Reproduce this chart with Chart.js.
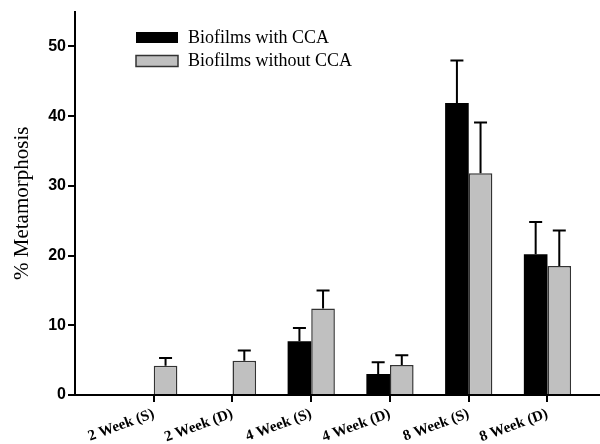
<!DOCTYPE html>
<html lang="en">
<head>
  <meta charset="UTF-8" />
  <title>% Metamorphosis</title>
  <script src="https://cdn.jsdelivr.net/npm/chart.js"></script>
  <style>
    body { margin: 0; background: #fff; overflow: hidden; }
    #wrap { width: 600px; height: 444px; }
  </style>
</head>
<body>
  <div id="wrap"><canvas id="chart" width="600" height="444"></canvas></div>

  <script>
    const categories = ["2 Week (S)", "2 Week (D)", "4 Week (S)", "4 Week (D)", "8 Week (S)", "8 Week (D)"];
    const withCCA = [0, 0, 7.7, 3.0, 41.9, 20.2];
    const withCCAErr = [0, 0, 1.9, 1.7, 6.1, 4.6];
    const withoutCCA = [4.2, 4.9, 12.4, 4.3, 31.8, 18.5];
    const withoutCCAErr = [1.1, 1.5, 2.6, 1.4, 7.3, 5.1];
    const yTicks = [0, 10, 20, 30, 40, 50];

    const serif = "'Liberation Serif', 'Times New Roman', serif";
    const sans = "'Liberation Sans', Arial, sans-serif";

    // upward-only error bars with a cap
    const errorBars = {
      id: 'errorBars',
      afterDatasetsDraw(chart) {
        const ctx = chart.ctx;
        const y = chart.scales.y;
        chart.data.datasets.forEach((ds, di) => {
          const meta = chart.getDatasetMeta(di);
          meta.data.forEach((bar, i) => {
            const v = ds.data[i].y, e = ds.errors[i];
            if (!e) return;
            const top = y.getPixelForValue(v + e);
            ctx.save();
            ctx.strokeStyle = '#000';
            ctx.lineWidth = 2;
            ctx.beginPath();
            ctx.moveTo(bar.x, y.getPixelForValue(v));
            ctx.lineTo(bar.x, top);
            ctx.moveTo(bar.x - 6.5, top);
            ctx.lineTo(bar.x + 6.5, top);
            ctx.stroke();
            ctx.restore();
          });
        });
      }
    };

    // legend boxes drawn inside the plot area
    const boxLegend = {
      id: 'boxLegend',
      afterDraw(chart) {
        const ctx = chart.ctx;
        const x0 = chart.chartArea.left + 61, y0 = 32;
        ctx.save();
        chart.data.datasets.forEach((ds, i) => {
          const yy = y0 + i * 23.5;
          ctx.fillStyle = ds.backgroundColor;
          ctx.fillRect(x0, yy, 42, 11);
          if (ds.borderWidth) {
            ctx.strokeStyle = ds.borderColor;
            ctx.lineWidth = 1.5;
            ctx.strokeRect(x0, yy, 42, 11);
          }
          ctx.fillStyle = '#000';
          ctx.font = '18px ' + serif;
          ctx.textBaseline = 'middle';
          ctx.fillText(ds.label, x0 + 52, yy + 6);
        });
        ctx.restore();
      }
    };

    new Chart(document.getElementById('chart'), {
      type: 'bar',
      data: {
        datasets: [
          {
            label: 'Biofilms with CCA',
            data: withCCA.map((v, i) => ({ x: i, y: v })),
            errors: withCCAErr,
            backgroundColor: '#000000',
            borderWidth: 0
          },
          {
            label: 'Biofilms without CCA',
            data: withoutCCA.map((v, i) => ({ x: i, y: v })),
            errors: withoutCCAErr,
            backgroundColor: '#c0c0c0',
            borderColor: '#333333',
            borderWidth: 1.5
          }
        ]
      },
      options: {
        responsive: false,
        animation: false,
        layout: { padding: { top: 8, left: 0, right: 0, bottom: 0 } },
        categoryPercentage: 0.6,
        barPercentage: 1.0,
        plugins: { legend: { display: false }, tooltip: { enabled: false } },
        scales: {
          x: {
            type: 'linear',
            offset: false,
            min: -1,
            max: 5.667,
            afterBuildTicks: s => { s.ticks = categories.map((c, i) => ({ value: i })); },
            afterFit: s => { s.height = 49; },
            ticks: {
              autoSkip: false,
              minRotation: 20,
              maxRotation: 20,
              padding: 3,
              color: '#000',
              font: { family: serif, size: 15, weight: 'bold' },
              callback: v => categories[v]
            },
            grid: { offset: false, drawOnChartArea: false, tickLength: 7, color: '#000', lineWidth: 2 },
            border: { color: '#000', width: 2 }
          },
          y: {
            min: 0,
            max: 55,
            afterBuildTicks: s => { s.ticks = yTicks.map(v => ({ value: v })); },
            afterFit: s => { s.width = 75; },
            ticks: {
              padding: 2,
              color: '#000',
              font: { family: sans, size: 16, weight: 'bold' }
            },
            grid: { drawOnChartArea: false, tickLength: 7, color: '#000', lineWidth: 2 },
            border: { color: '#000', width: 2 },
            title: {
              display: true,
              text: '% Metamorphosis',
              color: '#000',
              font: { family: serif, size: 21 },
              padding: { top: 10, bottom: 0 }
            }
          }
        }
      },
      plugins: [errorBars, boxLegend]
    });
  </script>
</body>
</html>
